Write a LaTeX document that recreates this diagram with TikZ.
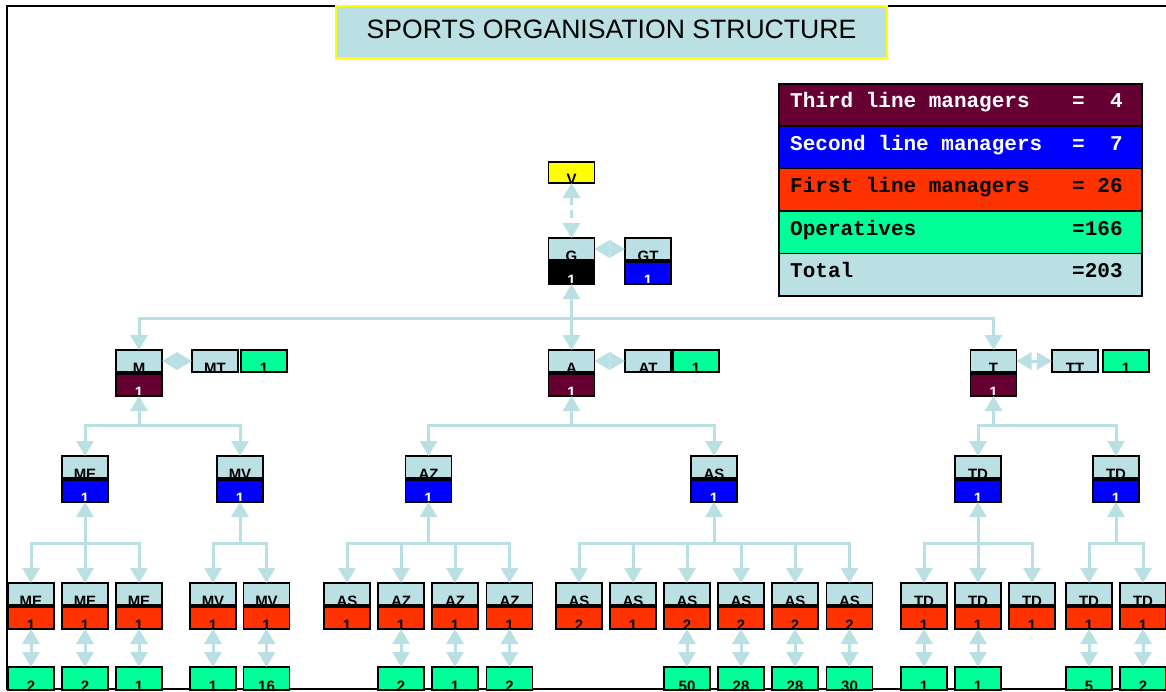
\documentclass[tikz,border=0pt]{standalone}
\usepackage{fontspec}
\setmainfont{Liberation Sans}
\newfontfamily\legmono{Liberation Mono}
\usetikzlibrary{arrows.meta}
\definecolor{lb}{RGB}{187,224,227}
\definecolor{mar}{RGB}{102,0,51}
\definecolor{blu}{RGB}{0,0,255}
\definecolor{org}{RGB}{255,51,0}
\definecolor{grn}{RGB}{0,255,153}
\definecolor{yel}{RGB}{255,255,0}
\tikzset{
 box/.style={draw=black, line width=1.6pt, minimum width=46pt, minimum height=22pt, inner sep=0pt, outer sep=0pt},
 cut/.style={anchor=base, inner sep=0pt, font=\fontsize{15}{15}\selectfont\bfseries},
 lbox/.style={box, fill=lb, path picture={\node[cut, text=black] at ([yshift=-1.5pt]path picture bounding box.south) {#1};}},
 nbox/.style n args={3}{box, fill=#1, path picture={\node[cut, text=#3] at ([yshift=-1pt]path picture bounding box.south) {#2};}},
 tipa/.tip={Triangle[length=15pt,width=17pt]},
 conn/.style={draw=lb, line width=3pt, -tipa},
 dconn/.style={draw=lb, line width=3pt, tipa-tipa},
 bus/.style={draw=lb, line width=3pt, line cap=rect},
 legrow/.style={draw=black, line width=1.6pt, minimum width=363pt, minimum height=42.4pt, inner sep=0pt, anchor=north west},
 legtxt/.style={anchor=base west, inner sep=0pt, font=\fontsize{21}{21}\legmono\bfseries},
}
\newcommand\pr[7]{%
 \node[lbox={#4}] (#1) at (#2,{#3+11}) {};
 \node[nbox={#5}{#6}{#7}] (#1n) at (#2,{#3+35}) {};
}
\newcommand\leaf[3]{%
 \node[nbox={grn}{#3}{black}, minimum height=23pt] (#1) at (#2,678.5) {};
}
\begin{document}
\begin{tikzpicture}[x=1pt,y=-1pt]
\useasboundingbox (0,0) rectangle (1166,691);
% frame
\draw[line width=2pt] (1166,6) -- (7,6) -- (7,689) -- (1166,689);
% title
\node[draw=yel, line width=2pt, fill=lb, minimum width=551pt, minimum height=52pt, inner sep=0pt] (titlebox) at (611.5,32) {};
\node[anchor=base, inner sep=0pt, font=\fontsize{26.6}{27}\selectfont] (title) at (611.5,38) {SPORTS ORGANISATION STRUCTURE};
% legend
\node[legrow, fill=mar] (l1) at (778,83) {};
\node[legrow, fill=blu] (l2) at (778,125.4) {};
\node[legrow, fill=org] (l3) at (778,167.8) {};
\node[legrow, fill=grn] (l4) at (778,210.2) {};
\node[legrow, fill=lb] (l5) at (778,252.6) {};
\node[legtxt, text=white] (l1a) at (790,107.5) {Third line managers};
\node[legtxt, text=white] (l1b) at (1072,107.5) {=\phantom{00}4};
\node[legtxt, text=white] (l2a) at (790,150) {Second line managers};
\node[legtxt, text=white] (l2b) at (1072,150) {=\phantom{00}7};
\node[legtxt] (l3a) at (790,192.5) {First line managers};
\node[legtxt] (l3b) at (1072,192.5) {=\phantom{0}26};
\node[legtxt] (l4a) at (790,235) {Operatives};
\node[legtxt] (l4b) at (1072,235) {=166};
\node[legtxt] (l5a) at (790,277.5) {Total};
\node[legtxt] (l5b) at (1072,277.5) {=203};
% top
\node[lbox=V, fill=yel, minimum height=21pt] (v) at (571.5,172.5) {};
\pr{g}{571.5}{238}{G}{black}{1}{white}
\pr{gt}{648}{238}{GT}{blu}{1}{white}
% level 2
\pr{m}{139}{350}{M}{mar}{1}{white}
\pr{a}{571.5}{350}{A}{mar}{1}{white}
\pr{t}{993.5}{350}{T}{mar}{1}{white}
\node[lbox=MT] (mt) at (215,361) {};
\node[nbox={grn}{1}{black}] (mtn) at (264,361) {};
\node[lbox=AT] (at) at (648,361) {};
\node[nbox={grn}{1}{black}] (atn) at (696,361) {};
\node[lbox=TT] (tt) at (1075,361) {};
\node[nbox={grn}{1}{black}] (ttn) at (1126,361) {};
% level 3
\pr{me}{85}{456}{ME}{blu}{1}{white}
\pr{mv}{240}{456}{MV}{blu}{1}{white}
\pr{az}{428.5}{456}{AZ}{blu}{1}{white}
\pr{as}{714}{456}{AS}{blu}{1}{white}
\pr{tda}{978}{456}{TD}{blu}{1}{white}
\pr{tdb}{1116}{456}{TD}{blu}{1}{white}
% level 4
\pr{mea}{31}{583}{ME}{org}{1}{black}
\pr{meb}{85}{583}{ME}{org}{1}{black}
\pr{mec}{139}{583}{ME}{org}{1}{black}
\pr{mva}{213}{583}{MV}{org}{1}{black}
\pr{mvb}{266.5}{583}{MV}{org}{1}{black}
\pr{aza}{347}{583}{AS}{org}{1}{black}
\pr{azb}{401}{583}{AZ}{org}{1}{black}
\pr{azc}{455}{583}{AZ}{org}{1}{black}
\pr{azd}{509.5}{583}{AZ}{org}{1}{black}
\pr{asa}{579}{583}{AS}{org}{2}{black}
\pr{asb}{633}{583}{AS}{org}{1}{black}
\pr{asc}{687}{583}{AS}{org}{2}{black}
\pr{asd}{741}{583}{AS}{org}{2}{black}
\pr{ase}{795}{583}{AS}{org}{2}{black}
\pr{asf}{849.5}{583}{AS}{org}{2}{black}
\pr{tdaa}{924}{583}{TD}{org}{1}{black}
\pr{tdab}{978}{583}{TD}{org}{1}{black}
\pr{tdac}{1032}{583}{TD}{org}{1}{black}
\pr{tdba}{1089}{583}{TD}{org}{1}{black}
\pr{tdbb}{1143}{583}{TD}{org}{1}{black}
% leaves
\leaf{omea}{31}{2}
\leaf{omeb}{85}{2}
\leaf{omec}{139}{1}
\leaf{omva}{213}{1}
\leaf{omvb}{266.5}{16}
\leaf{oazb}{401}{2}
\leaf{oazc}{455}{1}
\leaf{oazd}{509.5}{2}
\leaf{oasc}{687}{50}
\leaf{oasd}{741}{28}
\leaf{oase}{795}{28}
\leaf{oasf}{849.5}{30}
\leaf{otdaa}{924}{1}
\leaf{otdab}{978}{1}
\leaf{otdba}{1089}{5}
\leaf{otdbb}{1143}{2}
% connectors top
\draw[dconn, dash pattern=on 8pt off 5pt] (v) -- (g);
\draw[dconn] (g) -- (gt);
\draw[dconn] (m) -- (mt);
\draw[dconn] (a) -- (at);
\draw[dconn] (t) -- (tt);
% tree buses
\coordinate (b0) at (571.5,318);
\draw[conn] (b0) -- (gn);
\draw[bus] (b0 -| m) -- (b0 -| t);
\foreach \c in {m,a,t} \draw[conn] (b0 -| \c) -- (\c);
\coordinate (bm) at (139,425);
\draw[conn] (bm) -- (mn);
\draw[bus] (bm -| me) -- (bm -| mv);
\foreach \c in {me,mv} \draw[conn] (bm -| \c) -- (\c);
\coordinate (ba) at (571.5,425);
\draw[conn] (ba) -- (an);
\draw[bus] (ba -| az) -- (ba -| as);
\foreach \c in {az,as} \draw[conn] (ba -| \c) -- (\c);
\coordinate (bt) at (993.5,425);
\draw[conn] (bt) -- (tn);
\draw[bus] (bt -| tda) -- (bt -| tdb);
\foreach \c in {tda,tdb} \draw[conn] (bt -| \c) -- (\c);
% level 3 buses
\coordinate (bme) at (85,543);
\draw[conn] (bme) -- (men);
\draw[bus] (bme -| mea) -- (bme -| mec);
\foreach \c in {mea,meb,mec} \draw[conn] (bme -| \c) -- (\c);
\coordinate (bmv) at (240,543);
\draw[conn] (bmv) -- (mvn);
\draw[bus] (bmv -| mva) -- (bmv -| mvb);
\foreach \c in {mva,mvb} \draw[conn] (bmv -| \c) -- (\c);
\coordinate (baz) at (428.5,543);
\draw[conn] (baz) -- (azn);
\draw[bus] (baz -| aza) -- (baz -| azd);
\foreach \c in {aza,azb,azc,azd} \draw[conn] (baz -| \c) -- (\c);
\coordinate (bas) at (714,543);
\draw[conn] (bas) -- (asn);
\draw[bus] (bas -| asa) -- (bas -| asf);
\foreach \c in {asa,asb,asc,asd,ase,asf} \draw[conn] (bas -| \c) -- (\c);
\coordinate (btda) at (978,543);
\draw[conn] (btda) -- (tdan);
\draw[bus] (btda -| tdaa) -- (btda -| tdac);
\foreach \c in {tdaa,tdab,tdac} \draw[conn] (btda -| \c) -- (\c);
\coordinate (btdb) at (1116,543);
\draw[conn] (btdb) -- (tdbn);
\draw[bus] (btdb -| tdba) -- (btdb -| tdbb);
\foreach \c in {tdba,tdbb} \draw[conn] (btdb -| \c) -- (\c);
% first line to operatives
\foreach \p/\q in {mea/omea,meb/omeb,mec/omec,mva/omva,mvb/omvb,azb/oazb,azc/oazc,azd/oazd,asc/oasc,asd/oasd,ase/oase,asf/oasf,tdaa/otdaa,tdab/otdab,tdba/otdba,tdbb/otdbb}
  \draw[dconn] (\p n) -- (\q);
\end{tikzpicture}
\end{document}
